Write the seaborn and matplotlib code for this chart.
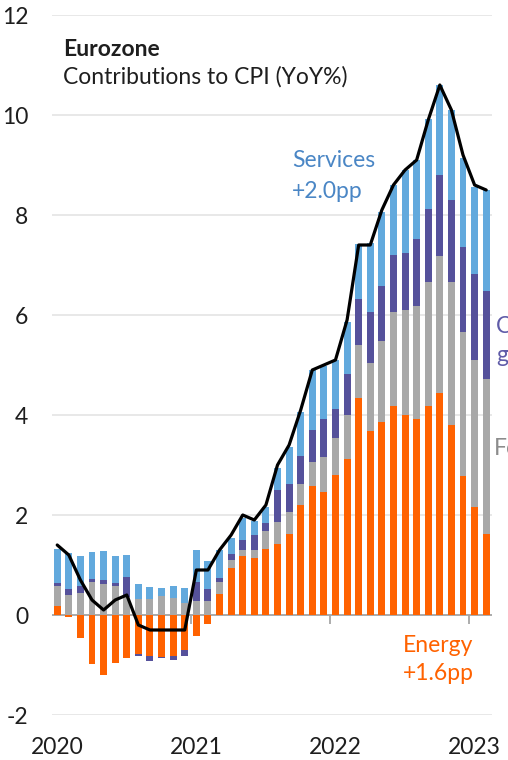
import numpy as np
import pandas as pd
import matplotlib
matplotlib.use("Agg")
import matplotlib.pyplot as plt
import seaborn as sns

# ---------------- data (Jan 2020 .. Feb 2023, monthly) ----------------
years = ["2020", "2021", "2022", "2023"]
months = pd.date_range("2020-01-01", "2023-02-01", freq="MS")

energy = [0.19, -0.03, -0.45, -0.98, -1.20, -0.95, -0.85, -0.77, -0.82, -0.83, -0.81, -0.70,
          -0.41, -0.17, 0.42, 0.95, 1.18, 1.15, 1.32, 1.43, 1.62, 2.20, 2.58, 2.47,
          2.80, 3.12, 4.35, 3.69, 3.87, 4.18, 4.01, 3.93, 4.19, 4.45, 3.80, 2.79,
          2.17, 1.63]
food = [0.40, 0.40, 0.45, 0.66, 0.63, 0.58, 0.37, 0.33, 0.33, 0.38, 0.35, 0.25,
        0.28, 0.28, 0.24, 0.15, 0.13, 0.15, 0.37, 0.44, 0.45, 0.43, 0.48, 0.70,
        0.75, 0.89, 1.05, 1.36, 1.60, 1.89, 2.10, 2.26, 2.48, 2.74, 2.87, 2.88,
        2.94, 3.10]
core_goods = [0.06, 0.13, 0.13, 0.07, 0.07, 0.06, 0.40, -0.04, -0.09, -0.03, -0.09, -0.12,
              0.39, 0.24, 0.09, 0.12, 0.20, 0.31, 0.16, 0.64, 0.55, 0.55, 0.65, 0.76,
              0.57, 0.81, 0.92, 1.02, 1.11, 1.14, 1.14, 1.33, 1.46, 1.61, 1.63, 1.70,
              1.72, 1.74]
services = [0.68, 0.72, 0.61, 0.54, 0.59, 0.55, 0.44, 0.29, 0.24, 0.17, 0.24, 0.30,
            0.63, 0.56, 0.55, 0.33, 0.44, 0.27, 0.32, 0.44, 0.75, 0.89, 1.20, 1.06,
            0.98, 1.05, 1.11, 1.36, 1.49, 1.39, 1.65, 1.58, 1.80, 1.80, 1.80, 1.76,
            1.74, 2.03]
headline = [1.4, 1.2, 0.7, 0.3, 0.1, 0.3, 0.4, -0.2, -0.3, -0.3, -0.3, -0.3,
            0.9, 0.9, 1.3, 1.6, 2.0, 1.9, 2.2, 3.0, 3.4, 4.1, 4.9, 5.0,
            5.1, 5.9, 7.4, 7.4, 8.1, 8.6, 8.9, 9.1, 9.9, 10.6, 10.1, 9.2,
            8.6, 8.5]

series_names = ["Energy", "Food", "Core goods", "Services"]
colors = ["#FF6200", "#A8A8A8", "#55519B", "#62A9DD"]

# ---------------- style ----------------
sns.set_theme(style="white")
plt.rcParams["font.family"] = ["Lato", "DejaVu Sans"]
plt.rcParams["axes.unicode_minus"] = False

W, H = 508, 760
fig = plt.figure(figsize=(W / 100, H / 100), dpi=100)
ax = fig.add_axes([52 / W, 45 / H, 440 / W, 700 / H])

idx = np.arange(len(headline))
vals = np.array([energy, food, core_goods, services])
pos = np.clip(vals, 0, None).cumsum(axis=0)
neg = np.clip(vals, None, 0).cumsum(axis=0)

for k in reversed(range(len(series_names))):
    for cum in (pos[k], neg[k]):
        sns.barplot(x=idx, y=cum, color=colors[k], saturation=1, width=0.6,
                    errorbar=None, linewidth=0, ax=ax, zorder=2)

sns.lineplot(x=idx, y=headline, color="black", linewidth=2.3, ax=ax, zorder=3)

# ---------------- axes ----------------
ax.set_xlim(-0.45, 37.5)
ax.set_ylim(-2, 12)
ax.set_yticks(np.arange(-2, 13, 2))
ax.set_yticklabels([f"{v:d}" for v in np.arange(-2, 13, 2)])
ax.set_xticks([12 * k for k in range(len(years))])
ax.set_xticklabels(years)
ax.set_xlabel("")
ax.set_ylabel("")
ax.tick_params(axis="both", length=0, labelsize=16.5, colors="#1E1E1E")
ax.tick_params(axis="y", pad=17)
ax.tick_params(axis="x", pad=16)
for s in ax.spines.values():
    s.set_visible(False)
ax.grid(axis="y", color="#E2E2E2", linewidth=1.1)
ax.grid(axis="x", visible=False)
ax.set_axisbelow(True)
ax.axhline(0, color="#A6A6A6", linewidth=1.3, zorder=1.5)
ax.vlines([12 * k - 0.5 for k in range(len(years))], -0.17, 0,
          color="#A6A6A6", linewidth=1.3, zorder=1.5)

# ---------------- texts ----------------
def ftext(x, y, s, **kw):
    fig.text(x / W, 1 - y / H, s, va="baseline", ha="left", fontsize=16.5, **kw)

ftext(63, 56, "Eurozone", weight="bold", color="#1E1E1E")
ftext(63, 84, "Contributions to CPI (YoY%)", color="#1E1E1E")
ftext(292, 167, "Services", color="#4A86C5")
ftext(292, 198, "+2.0pp", color="#4A86C5")
ftext(403, 652, "Energy", color="#FF6200")
ftext(403, 680, "+1.6pp", color="#FF6200")
ftext(496, 333, "Core", color="#5F5BA8")
ftext(496, 362, "goods", color="#5F5BA8")
ftext(494, 455, "Food", color="#8C8C8C")

fig.savefig("out.png", dpi=100)
